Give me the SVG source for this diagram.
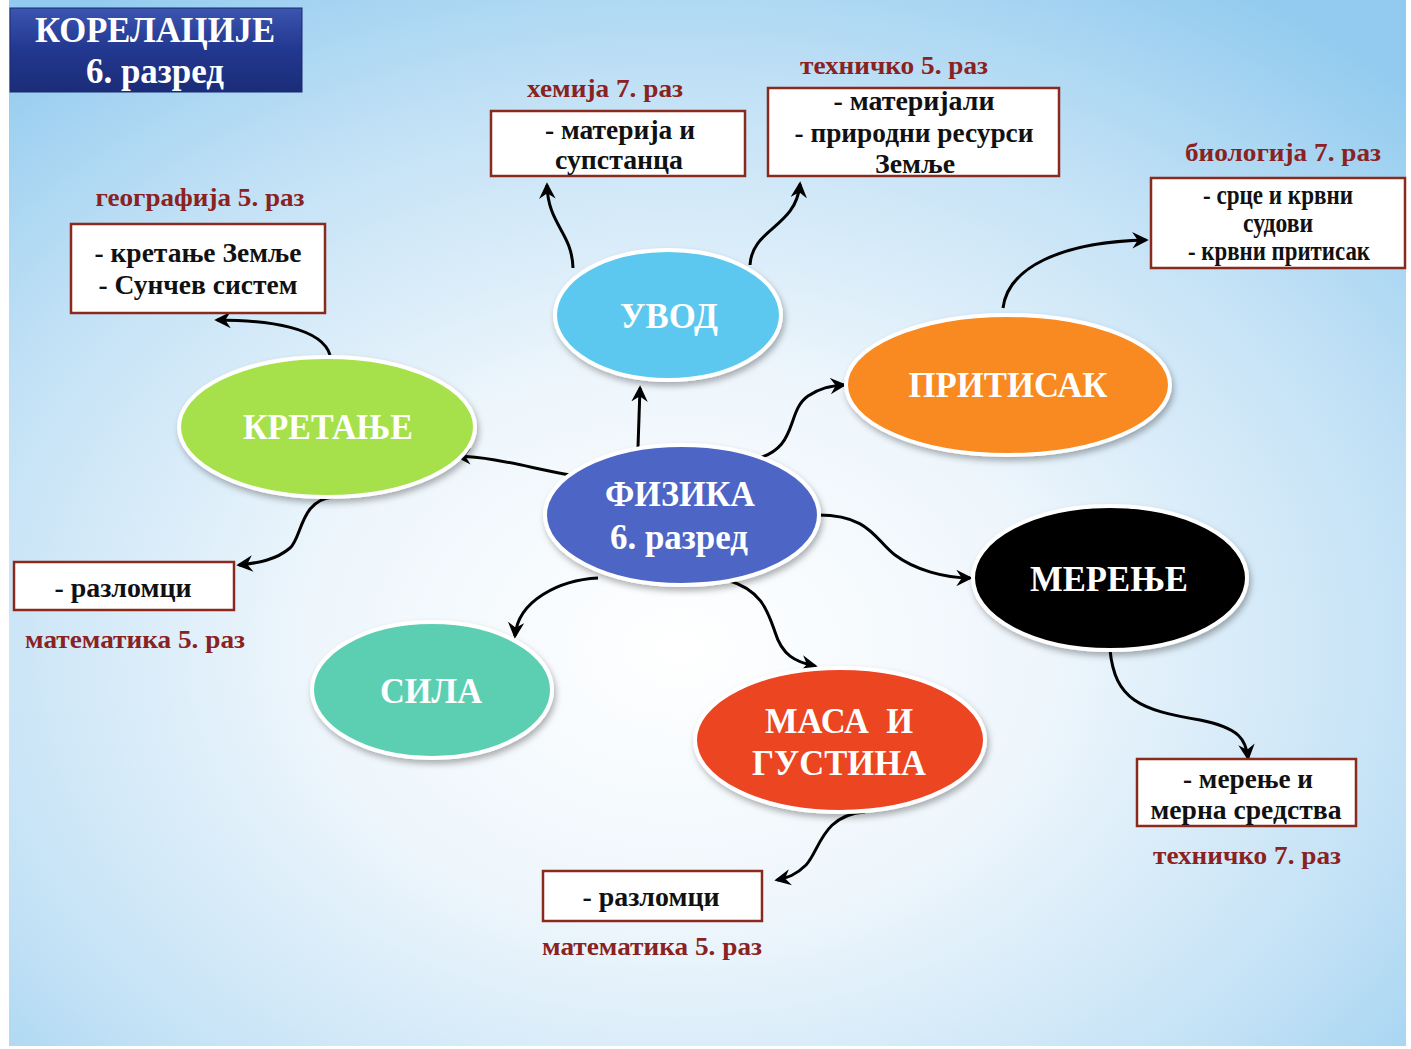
<svg xmlns="http://www.w3.org/2000/svg" width="1411" height="1049" viewBox="0 0 1411 1049">
<defs>
<radialGradient id="bg" cx="0.48" cy="0.62" r="0.75">
<stop offset="0" stop-color="#ffffff"/>
<stop offset="0.35" stop-color="#eef6fc"/>
<stop offset="0.7" stop-color="#c4e2f6"/>
<stop offset="1" stop-color="#92cbef"/>
</radialGradient>
<linearGradient id="title" x1="0" y1="0" x2="0" y2="1">
<stop offset="0" stop-color="#3b55b0"/>
<stop offset="0.5" stop-color="#22378f"/>
<stop offset="1" stop-color="#1b2c78"/>
</linearGradient>
<filter id="sh" x="-10%" y="-10%" width="125%" height="130%">
<feDropShadow dx="2" dy="4" stdDeviation="3" flood-color="#000" flood-opacity="0.3"/>
</filter>
<marker id="ah" viewBox="0 0 12 12" refX="10" refY="6" markerWidth="5.5" markerHeight="5.5" orient="auto" markerUnits="strokeWidth">
<path d="M0,0 L12,6 L0,12 L4,6 z" fill="#000"/>
</marker>
<style>
.ell{stroke:#ffffff;stroke-width:4;filter:url(#sh)}
.et{font-family:"Liberation Serif",serif;font-weight:bold;fill:#ffffff;text-anchor:middle}
.box{fill:#ffffff;stroke:#8a2a1c;stroke-width:2.5}
.bt{font-family:"Liberation Serif",serif;font-weight:bold;fill:#111;text-anchor:middle;font-size:27px}
.lb{font-family:"Liberation Serif",serif;font-weight:bold;fill:#8a2222;text-anchor:middle;font-size:26px}
.con path{fill:none;stroke:#000;stroke-width:3;marker-end:url(#ah)}
</style>
</defs>
<rect x="0" y="0" width="1411" height="1049" fill="#ffffff"/>
<rect x="9" y="0" width="1397" height="1046" fill="url(#bg)"/>

<g id="title">
<rect x="10" y="8" width="292" height="84" fill="url(#title)" stroke="#1a2a70" stroke-width="1"/>
<text x="155" y="42" class="et" font-size="35" textLength="240" lengthAdjust="spacingAndGlyphs">КОРЕЛАЦИЈЕ</text>
<text x="155" y="83" class="et" font-size="35" textLength="138" lengthAdjust="spacingAndGlyphs">6. разред</text>
</g>

<g class="con" id="connectors">
<path d="M638,447 L640,388"/>
<path d="M573,268 C572,232 548,225 547,185"/>
<path d="M750,265 C752,228 796,228 800,184"/>
<path d="M1003,308 C1008,268 1060,242 1146,240"/>
<path d="M752,460 C800,450 785,412 808,396 C820,388 830,386 844,385"/>
<path d="M570,475 C530,468 495,457 457,456"/>
<path d="M330,355 C322,328 270,320 217,320"/>
<path d="M333,497 C300,500 302,538 290,548 C276,560 258,563 239,565"/>
<path d="M598,578 C560,580 518,600 515,636"/>
<path d="M727,580 C762,590 768,612 775,632 C782,655 795,662 815,666"/>
<path d="M818,515 C870,515 875,540 895,555 C915,570 945,578 970,578"/>
<path d="M1110,650 C1115,700 1140,710 1200,720 C1240,728 1246,740 1248,758"/>
<path d="M865,812 C822,815 820,850 806,865 C796,875 787,878 777,880"/>
</g>

<g id="uvod">
<ellipse cx="668" cy="315" rx="113" ry="65" fill="#5bc8ef" class="ell"/>
<text x="669" y="328" class="et" font-size="36" textLength="98" lengthAdjust="spacingAndGlyphs">УВОД</text>
</g>
<g id="kretanje">
<ellipse cx="327" cy="427" rx="148" ry="70" fill="#a6e14c" class="ell"/>
<text x="328" y="439" class="et" font-size="35" textLength="170" lengthAdjust="spacingAndGlyphs">КРЕТАЊЕ</text>
</g>
<g id="pritisak">
<ellipse cx="1008" cy="385" rx="162" ry="70" fill="#f98a22" class="ell"/>
<text x="1008" y="397" class="et" font-size="35" textLength="199" lengthAdjust="spacingAndGlyphs">ПРИТИСАК</text>
</g>
<g id="fizika">
<ellipse cx="682" cy="515" rx="137" ry="70" fill="#4d66c6" class="ell"/>
<text x="680" y="506" class="et" font-size="35" textLength="150" lengthAdjust="spacingAndGlyphs">ФИЗИКА</text>
<text x="679" y="549" class="et" font-size="35" textLength="138" lengthAdjust="spacingAndGlyphs">6. разред</text>
</g>
<g id="merenje">
<ellipse cx="1110" cy="578" rx="137" ry="72" fill="#000000" class="ell"/>
<text x="1109" y="591" class="et" font-size="35" textLength="158" lengthAdjust="spacingAndGlyphs">МЕРЕЊЕ</text>
</g>
<g id="sila">
<ellipse cx="432" cy="690" rx="120" ry="68" fill="#5ccfb2" class="ell"/>
<text x="431" y="703" class="et" font-size="35" textLength="102" lengthAdjust="spacingAndGlyphs">СИЛА</text>
</g>
<g id="masa">
<ellipse cx="840" cy="740" rx="145" ry="72" fill="#ec4424" class="ell"/>
<text x="839" y="733" class="et" font-size="35" textLength="148" lengthAdjust="spacingAndGlyphs" xml:space="preserve">МАСА  И</text>
<text x="839" y="775" class="et" font-size="35" textLength="174" lengthAdjust="spacingAndGlyphs">ГУСТИНА</text>
</g>

<g id="hemija">
<text x="605" y="97" class="lb" textLength="156" lengthAdjust="spacingAndGlyphs">хемија 7. раз</text>
<rect x="491" y="111" width="254" height="65" class="box"/>
<text x="620" y="139" class="bt" textLength="150" lengthAdjust="spacingAndGlyphs">- материја и</text>
<text x="619" y="169" class="bt" textLength="128" lengthAdjust="spacingAndGlyphs">супстанца</text>
</g>
<g id="tehnicko5">
<text x="894" y="74" class="lb" textLength="188" lengthAdjust="spacingAndGlyphs">техничко 5. раз</text>
<rect x="768" y="88" width="291" height="88" class="box"/>
<text x="914" y="110" class="bt" textLength="161" lengthAdjust="spacingAndGlyphs">- материјали</text>
<text x="914" y="142" class="bt" textLength="239" lengthAdjust="spacingAndGlyphs">- природни ресурси</text>
<text x="915" y="173" class="bt" textLength="80" lengthAdjust="spacingAndGlyphs">Земље</text>
</g>
<g id="biologija">
<text x="1283" y="161" class="lb" textLength="196" lengthAdjust="spacingAndGlyphs">биологија 7. раз</text>
<rect x="1151" y="178" width="254" height="90" class="box"/>
<text x="1278" y="204" class="bt" font-size="19" textLength="150" lengthAdjust="spacingAndGlyphs">- срце и крвни</text>
<text x="1278" y="232" class="bt" font-size="19" textLength="70" lengthAdjust="spacingAndGlyphs">судови</text>
<text x="1279" y="260" class="bt" font-size="19" textLength="182" lengthAdjust="spacingAndGlyphs">- крвни притисак</text>
</g>
<g id="geografija">
<text x="200" y="206" class="lb" textLength="209" lengthAdjust="spacingAndGlyphs">географија 5. раз</text>
<rect x="71" y="224" width="254" height="89" class="box"/>
<text x="198" y="262" class="bt" textLength="207" lengthAdjust="spacingAndGlyphs">- кретање Земље</text>
<text x="198" y="294" class="bt" textLength="199" lengthAdjust="spacingAndGlyphs">- Сунчев систем</text>
</g>
<g id="razlomci1">
<rect x="14" y="562" width="220" height="48" class="box"/>
<text x="123" y="597" class="bt" textLength="137" lengthAdjust="spacingAndGlyphs">- разломци</text>
<text x="135" y="648" class="lb" textLength="220" lengthAdjust="spacingAndGlyphs">математика 5. раз</text>
</g>
<g id="tehnicko7">
<rect x="1137" y="759" width="219" height="67" class="box"/>
<text x="1248" y="788" class="bt" textLength="130" lengthAdjust="spacingAndGlyphs">- мерење и</text>
<text x="1246" y="819" class="bt" textLength="191" lengthAdjust="spacingAndGlyphs">мерна средства</text>
<text x="1247" y="864" class="lb" textLength="188" lengthAdjust="spacingAndGlyphs">техничко 7. раз</text>
</g>
<g id="razlomci2">
<rect x="543" y="871" width="219" height="50" class="box"/>
<text x="651" y="906" class="bt" textLength="137" lengthAdjust="spacingAndGlyphs">- разломци</text>
<text x="652" y="955" class="lb" textLength="220" lengthAdjust="spacingAndGlyphs">математика 5. раз</text>
</g>
</svg>
